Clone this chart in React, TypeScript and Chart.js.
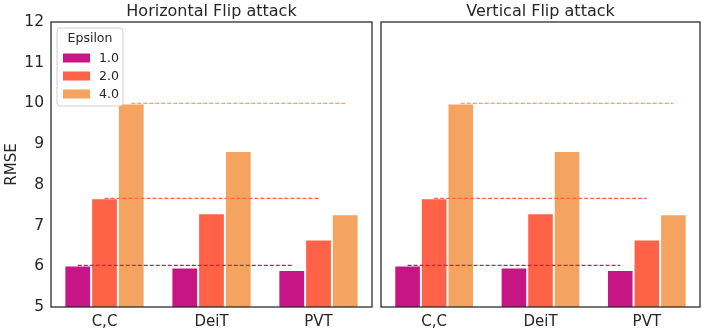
import React, { useEffect, useRef } from 'react';
import { Chart, registerables } from 'chart.js';

Chart.register(...registerables);

const categories = ['C,C', 'DeiT', 'PVT'];
const epsilonLabels = ['1.0', '2.0', '4.0'];
const seriesColors = ['#C71585', '#FF6347', '#F4A460'];

const hFlipEps1 = [6.02, 5.97, 5.91];
const hFlipEps2 = [7.67, 7.3, 6.66];
const hFlipEps4 = [10.0, 8.83, 7.28];

const vFlipEps1 = [6.02, 5.97, 5.91];
const vFlipEps2 = [7.67, 7.3, 6.66];
const vFlipEps4 = [10.0, 8.83, 7.28];

const yTickValues = [5, 6, 7, 8, 9, 10, 11, 12];

const TEXT = '#262626';
const FONT = 'DejaVu Sans';

const overlayPlugin = {
  id: 'overlay',
  afterDatasetsDraw(chart: any) {
    const ctx = chart.ctx;
    const area = chart.chartArea;
    ctx.save();
    ctx.beginPath();
    ctx.rect(area.left, area.top, area.right - area.left, area.bottom - area.top);
    ctx.clip();
    chart.data.datasets.forEach((ds: any, i: number) => {
      const meta = chart.getDatasetMeta(i);
      const first = meta.data[0];
      const last = meta.data[meta.data.length - 1];
      if (!first || !last) return;
      ctx.beginPath();
      ctx.setLineDash([4, 2]);
      ctx.lineWidth = 1.2;
      ctx.strokeStyle = ds.backgroundColor;
      ctx.moveTo(first.x, first.y);
      ctx.lineTo(last.x, first.y);
      ctx.stroke();
    });
    ctx.restore();
  },
  afterDraw(chart: any, _args: any, opts: any) {
    const ctx = chart.ctx;
    const area = chart.chartArea;
    ctx.save();
    ctx.strokeStyle = TEXT;
    ctx.lineWidth = 1.25;
    ctx.setLineDash([]);
    ctx.strokeRect(area.left, area.top, area.right - area.left, area.bottom - area.top);
    ctx.restore();

    if (opts && opts.showLegend) {
      const bx = area.left + 6;
      const by = area.top + 6;
      const bw = 66;
      const bh = 78;
      ctx.save();
      ctx.beginPath();
      const r = 3;
      ctx.moveTo(bx + r, by);
      ctx.lineTo(bx + bw - r, by);
      ctx.quadraticCurveTo(bx + bw, by, bx + bw, by + r);
      ctx.lineTo(bx + bw, by + bh - r);
      ctx.quadraticCurveTo(bx + bw, by + bh, bx + bw - r, by + bh);
      ctx.lineTo(bx + r, by + bh);
      ctx.quadraticCurveTo(bx, by + bh, bx, by + bh - r);
      ctx.lineTo(bx, by + r);
      ctx.quadraticCurveTo(bx, by, bx + r, by);
      ctx.closePath();
      ctx.fillStyle = 'rgba(255,255,255,0.8)';
      ctx.fill();
      ctx.strokeStyle = '#d0d0d0';
      ctx.lineWidth = 1;
      ctx.stroke();

      ctx.fillStyle = TEXT;
      ctx.font = `12.5px "${FONT}"`;
      ctx.textAlign = 'center';
      ctx.textBaseline = 'middle';
      ctx.fillText(opts.title, bx + bw / 2, by + 11);

      chart.data.datasets.forEach((ds: any, i: number) => {
        const cy = by + 30 + i * 18;
        ctx.fillStyle = ds.backgroundColor;
        ctx.fillRect(bx + 6, cy - 4.5, 27, 9);
        ctx.fillStyle = TEXT;
        ctx.textAlign = 'left';
        ctx.fillText(ds.label, bx + 42, cy + 0.5);
      });
      ctx.restore();
    }
  },
};

type PanelProps = {
  title: string;
  series: number[][];
  showY: boolean;
  left: number;
  width: number;
  padLeft: number;
  padRight: number;
};

function Panel({ title, series, showY, left, width, padLeft, padRight }: PanelProps) {
  const ref = useRef<HTMLCanvasElement | null>(null);
  useEffect(() => {
    if (!ref.current) return;
    const chart = new Chart(ref.current, {
      type: 'bar',
      data: {
        labels: categories,
        datasets: series.map((vals, i) => ({
          label: epsilonLabels[i],
          data: vals,
          backgroundColor: seriesColors[i],
          borderColor: '#ffffff',
          borderWidth: 1,
          borderSkipped: 'start',
          barPercentage: 1,
          categoryPercentage: 0.75,
        })),
      },
      options: {
        responsive: false,
        animation: false,
        devicePixelRatio: 1,
        layout: { padding: { left: padLeft, right: padRight, top: 0, bottom: 0 } },
        scales: {
          x: {
            grid: { display: false, drawTicks: false },
            border: { display: false },
            ticks: { font: { family: FONT, size: 15 }, color: TEXT, padding: 6 },
            afterFit: (s: any) => {
              s.height = 29;
            },
          },
          y: {
            display: showY,
            min: yTickValues[0],
            max: yTickValues[yTickValues.length - 1],
            grid: { display: false, drawTicks: false },
            border: { display: false },
            afterBuildTicks: (s: any) => {
              s.ticks = yTickValues.map((v) => ({ value: v }));
            },
            ticks: { font: { family: FONT, size: 15.5 }, color: TEXT, padding: 7 },
            title: {
              display: true,
              text: 'RMSE',
              font: { family: FONT, size: 15 },
              color: TEXT,
              padding: { top: 3, bottom: 0 },
            },
            afterFit: (s: any) => {
              s.width = showY ? 51 : 0;
            },
          },
        },
        plugins: {
          legend: { display: false },
          tooltip: { enabled: false },
          title: {
            display: true,
            text: title,
            fullSize: false,
            color: TEXT,
            font: { family: FONT, size: 16, weight: 'normal' },
            padding: { top: 2, bottom: 0.8 },
          },
          overlay: { showLegend: showY, title: 'Epsilon' },
        } as any,
      },
      plugins: [overlayPlugin],
    } as any);
    return () => chart.destroy();
  }, []);
  return (
    <canvas
      ref={ref}
      width={width}
      height={336}
      style={{ position: 'absolute', left, top: 0, width, height: 336, display: 'block' }}
    />
  );
}

export default function App() {
  return (
    <div
      style={{
        position: 'fixed',
        left: 0,
        top: 0,
        width: 706,
        height: 336,
        background: '#ffffff',
        overflow: 'hidden',
      }}
    >
      <Panel
        title="Horizontal Flip attack"
        series={[hFlipEps1, hFlipEps2, hFlipEps4]}
        showY={true}
        left={0}
        width={376}
        padLeft={0}
        padRight={4}
      />
      <Panel
        title="Vertical Flip attack"
        series={[vFlipEps1, vFlipEps2, vFlipEps4]}
        showY={false}
        left={376}
        width={330}
        padLeft={5}
        padRight={6}
      />
    </div>
  );
}
